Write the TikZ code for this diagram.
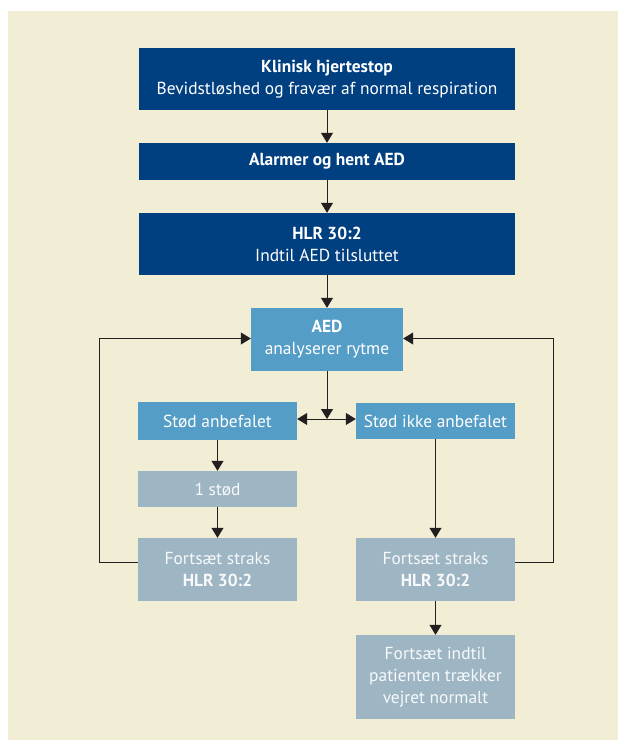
\documentclass[tikz,border=0pt]{standalone}
\usepackage{fontspec}
\setmainfont{PT Sans}
\usepackage{tikz}
\usetikzlibrary{positioning, calc, arrows.meta}

\definecolor{bgbeige}{RGB}{242,237,213}
\definecolor{darkblue}{RGB}{0,63,128}
\definecolor{midblue}{RGB}{83,157,198}
\definecolor{greyblue}{RGB}{158,181,196}
\definecolor{linegrey}{RGB}{35,31,32}

\tikzset{
  darkbox/.style={fill=darkblue, text=white, minimum width=376pt, align=center, font=\fontsize{17.4}{22}\selectfont},
  midbox/.style={fill=midblue, text=white, minimum width=159pt, align=center, font=\fontsize{17.4}{22}\selectfont},
  greybox/.style={fill=greyblue, text=white!92!greyblue, minimum width=159pt, align=center, font=\fontsize{17.4}{22}\selectfont},
  flow/.style={draw=linegrey, line width=1pt, -{Triangle[length=10pt,width=12pt]}},
  loopline/.style={draw=linegrey, line width=1pt}
}

\begin{document}
\begin{tikzpicture}[x=1pt, y=-1pt]
\useasboundingbox (0,0) rectangle (618,740);
\fill[bgbeige] (8,11) rectangle (618,740);

% top column
\node[darkbox, minimum height=62pt] (klinisk) at (327,79) {\textbf{Klinisk hjertestop}\\Bevidstløshed og fravær af normal respiration};
\node[darkbox, minimum height=37pt] (alarm) at (327,161.5) {\textbf{Alarmer og hent AED}};
\node[darkbox, minimum height=62pt] (hlr) at (327,244) {\textbf{HLR 30:2}\\Indtil AED tilsluttet};
\node[midbox, minimum width=152pt, minimum height=63pt] (aed) at (327,339.5) {\textbf{AED}\\analyserer rytme};
\coordinate (split) at (327,419);

% two branches
\node[midbox, minimum height=38pt] (stod) at (217.5,421) {Stød anbefalet};
\node[midbox, minimum height=36pt] (ikke) at (435.5,421) {Stød ikke anbefalet};
\node[greybox, minimum height=36pt] (etstod) at (217.5,489) {1 stød};
\node[greybox, minimum height=63pt] (fortL) at (217.5,569.5) {Fortsæt straks\\\textbf{HLR 30:2}};
\node[greybox, minimum height=63pt] (fortR) at (435.5,569.5) {Fortsæt straks\\\textbf{HLR 30:2}};
\node[greybox, minimum height=84pt] (slut) at (435.5,677) {Fortsæt indtil\\patienten trækker\\vejret normalt};

\draw[flow] (klinisk) -- (alarm);
\draw[flow] (alarm) -- (hlr);
\draw[flow] (hlr) -- (aed);
\draw[flow] (aed) -- (split);
\draw[flow] (split) -- (split -| stod.east);
\draw[flow] (split) -- (split -| ikke.west);
\draw[flow] (stod) -- (etstod);
\draw[flow] (etstod) -- (fortL);
\draw[flow] (ikke) -- (fortR);
\draw[flow] (fortR) -- (slut);

% loops back to the analysis
\draw[loopline] ([yshift=7pt]fortL.west) -- ++(-38,0) coordinate (loopL);
\draw[flow] (loopL) |- ([yshift=1pt]aed.west);
\draw[loopline] ([yshift=7pt]fortR.east) -- ++(38,0) coordinate (loopR);
\draw[flow] (loopR) |- ([yshift=1pt]aed.east);
\end{tikzpicture}
\end{document}
